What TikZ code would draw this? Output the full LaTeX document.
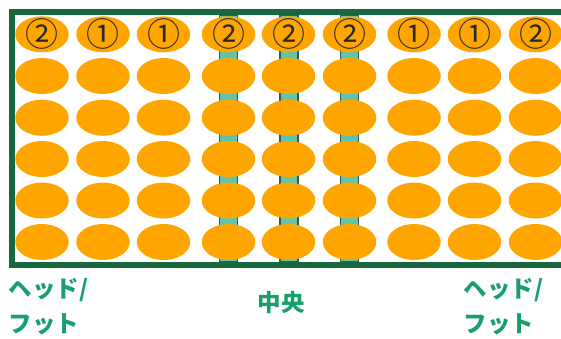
\documentclass[tikz,border=0pt]{standalone}
\usepackage{fontspec}
\usetikzlibrary{shapes.geometric}
\newfontfamily\jp{Noto Sans CJK JP}
\definecolor{framegreen}{RGB}{23,105,61}
\definecolor{labelgreen}{RGB}{24,160,107}
\definecolor{rodfill}{RGB}{96,196,168}
\definecolor{rodline}{RGB}{60,85,80}
\definecolor{beadorange}{RGB}{255,165,0}
\definecolor{digitgray}{RGB}{40,40,40}
\tikzset{
  bead/.style={ellipse, fill=beadorange, draw=none, inner sep=0pt,
    minimum width=53.5pt, minimum height=36pt},
  rod/.style={fill=rodfill, draw=rodline, line width=1.2pt},
  frameline/.style={draw=framegreen, line width=6pt},
  lbl/.style={text=labelgreen, font=\jp\bfseries\fontsize{23.5}{35}\selectfont, inner sep=0pt},
  num/.style={text=digitgray, font=\jp\fontsize{33}{33}\selectfont}
}
\begin{document}
\begin{tikzpicture}[x=1pt,y=-1pt]
\useasboundingbox (0,0) rectangle (561,338);
\clip (0,0) rectangle (561,338);
% rods
\foreach \rx/\nm in {228.3/a,289/b,349.3/c}{
  \draw[rod] (\rx-9,15) rectangle (\rx+9,262);
}
% frame
\draw[frameline] (12,12) rectangle (600,265);
% beads
\foreach \cx [count=\ci] in {42,103,163.5,228.5,288.5,349.5,414,474.5,535.5}{
  \foreach \cy [count=\ri] in {34.3,76,117.7,159,200.5,242}{
    \node[bead] (b-\ri-\ci) at (\cx,\cy) {};
  }
}
% digits in top row
\foreach \d [count=\ci] in {②,①,①,②,②,②,①,①,②}{
  \node[num] at (b-1-\ci) {\d};
}
% labels
\node[lbl, anchor=north west, align=left] (lh) at (8.5,278.5) {ヘッド/\\フット};
\node[lbl] (lc) at (281,303) {中央};
\node[lbl, anchor=north west, align=left] (rh) at (463.5,278.5) {ヘッド/\\フット};
\end{tikzpicture}
\end{document}
